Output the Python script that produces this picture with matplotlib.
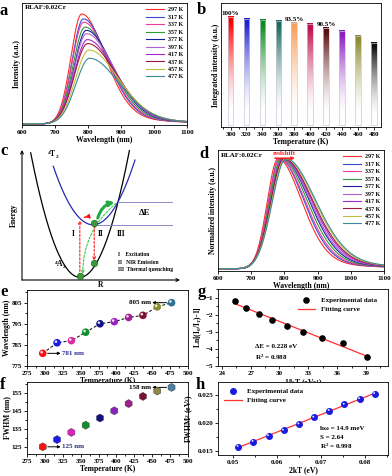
import numpy as np
import matplotlib
matplotlib.use('Agg')
import matplotlib.pyplot as plt
from matplotlib.ticker import AutoMinorLocator, FormatStrFormatter
from matplotlib.patches import FancyArrowPatch
from matplotlib import transforms

plt.rcParams['font.family'] = ['Liberation Serif', 'DejaVu Serif']
plt.rcParams['font.weight'] = 'bold'
plt.rcParams['axes.labelweight'] = 'bold'
plt.rcParams['font.size'] = 5
plt.rcParams['mathtext.fontset'] = 'custom'
plt.rcParams['mathtext.rm'] = 'Liberation Serif:bold'
plt.rcParams['mathtext.it'] = 'Liberation Serif:italic:bold'
plt.rcParams['mathtext.bf'] = 'Liberation Serif:bold'
plt.rcParams['axes.linewidth'] = 0.6
plt.rcParams['xtick.major.width'] = 0.6
plt.rcParams['ytick.major.width'] = 0.6
plt.rcParams['xtick.major.size'] = 2
plt.rcParams['ytick.major.size'] = 2
plt.rcParams['xtick.minor.size'] = 1.2
plt.rcParams['ytick.minor.size'] = 1.2
plt.rcParams['xtick.major.pad'] = 1.5
plt.rcParams['ytick.major.pad'] = 1.5
plt.rcParams['axes.labelpad'] = 1

# ---- data ----
temps = [297, 317, 337, 357, 377, 397, 417, 437, 457, 477]
temp_labels = ['297 K', '317 K', '337 K', '357 K', '377 K', '397 K', '417 K', '437 K', '457 K', '477 K']
peak_nm = [781, 786, 787, 791, 795, 796, 798, 799, 803, 805]
fwhm_nm = [125, 129, 133, 137, 141, 145, 149, 153, 156, 158]
peak_height = [1.0, 0.955, 0.925, 0.881, 0.851, 0.821, 0.767, 0.731, 0.672, 0.597]
spec_colors = ['#ff2a2a', '#3a4ad0', '#ee3c9a', '#2f9a3a', '#1c1ca0', '#b060d0',
               '#a32ac8', '#a01838', '#c0c040', '#3a8a98']
dot_colors = ['#ff1010', '#1a1ae0', '#e02aa0', '#10902a', '#10108a', '#9a20c0',
              '#a0209a', '#801030', '#8a8a30', '#2a7090']
hex_colors = ['#ff1010', '#1a1af0', '#e020c0', '#10902a', '#101080', '#8a20c0',
              '#a0208a', '#801030', '#8a8a40', '#4a80a0']

bar_T = [300, 320, 340, 360, 380, 400, 420, 440, 460, 480]
bar_int = [100, 98.5, 97.2, 96.2, 94.8, 93.3, 90.2, 86.8, 82.8, 76.0]
bar_colors = ['#ff0000', '#2020d0', '#0a8a1a', '#1a6a5a', '#f8a060', '#c01050',
              '#5a1010', '#8a20c0', '#8a8a30', '#101010']

g_x = [25.39, 26.55, 27.83, 29.23, 30.78, 32.50, 34.43, 36.61, 39.07]
g_y = [-1.23, -1.62, -1.94, -2.29, -2.69, -3.02, -3.37, -3.65, -4.50]

h_x = [0.0512, 0.0546, 0.0581, 0.0615, 0.0650, 0.0684, 0.0719, 0.0753, 0.0788, 0.0822]
h_y = [0.0158, 0.0167, 0.0177, 0.0187, 0.0198, 0.0210, 0.0222, 0.0233, 0.0243, 0.0252]

# configuration coordinate diagram (schematic units)
ground = dict(x0=3.66, y0=0.21, k=1.0)
excited = dict(x0=4.5, y0=4.29, k=0.716)


def band(wl, peak, fwhm, height):
    # asymmetric band shape, narrow blue side, long red tail
    hw = np.where(wl < peak, 0.31 * fwhm, 0.69 * fwhm)
    x = (wl - peak) / hw
    eta = np.where(wl < peak, 0.0, 0.25)
    return height * ((1 - eta) * np.exp(-np.log(2) * x ** 2) + eta / (1 + x ** 2))


fig = plt.figure(figsize=(3.92, 4.76), dpi=100)


def ax_at(l, t, r, b):
    return fig.add_axes([l / 392, 1 - b / 476, (r - l) / 392, (b - t) / 476])


def letter(x, y, s):
    fig.text(x / 392, 1 - y / 476, s, fontsize=12, fontweight='bold', va='top', ha='left')


wl = np.linspace(600, 1100, 600)

# ---- a ----
ax = ax_at(22, 3, 187, 125)
for i in range(len(temps)):
    ax.plot(wl, band(wl, peak_nm[i], fwhm_nm[i], peak_height[i]), color=spec_colors[i], lw=0.8,
            label=temp_labels[i])
ax.set_xlim(600, 1100)
ax.set_ylim(-0.01, 1.1)
ax.set_yticks([])
ax.set_xticks(range(600, 1101, 100))
ax.set_xlabel('Wavelength (nm)', fontsize=5.5)
ax.set_ylabel('Intensity (a.u.)', fontsize=5.5)
ax.text(0.015, 0.985, 'RLAF:0.02Cr', transform=ax.transAxes, va='top', fontsize=5)
ax.legend(loc='upper right', frameon=False, fontsize=4.3, handlelength=3, labelspacing=0.38,
          handletextpad=0.6, borderaxespad=0.3)
letter(0, 3, 'a')

# ---- b ----
ax = ax_at(221, 3, 381, 127)
w = 7
for T, h, c in zip(bar_T, bar_int, bar_colors):
    rgb = np.array(matplotlib.colors.to_rgb(c))
    t = np.linspace(1, 0, 200)[:, None]
    mix = np.clip((t - 0.1) / 0.85, 0, 1) ** 1.6
    img = (1 - mix[..., None]) * np.ones(3) + mix[..., None] * rgb
    ax.imshow(img, extent=[T - w / 2, T + w / 2, 0, h], aspect='auto', zorder=2)
ax.bar(bar_T, bar_int, width=w, facecolor='none', edgecolor='#c8c8dc', lw=0.5, zorder=3)
ax.set_xlim(288, 489)
ax.set_ylim(-1.5, 113)
ax.set_yticks([])
ax.set_xticks(bar_T)
ax.xaxis.set_minor_locator(AutoMinorLocator(2))
ax.set_xlabel('Temperature (K)', fontsize=5.5)
ax.set_ylabel('Integrated intensity (a.u.)', fontsize=5.5)
ax.text(bar_T[0], bar_int[0] + 1, '100%', ha='center', va='bottom', fontsize=5)
ax.text(bar_T[4], bar_int[4] + 1, '93.5%', ha='center', va='bottom', fontsize=5)
ax.text(bar_T[6], bar_int[6] + 1, '90.5%', ha='center', va='bottom', fontsize=5)
letter(197, 2, 'b')

# ---- c ----
ax = ax_at(22, 150, 180, 280)
ax.set_xlim(0, 10)
ax.set_ylim(0, 10.1)
for s in ax.spines.values():
    s.set_visible(False)
ax.set_xticks([])
ax.set_yticks([])
ax.annotate('', xy=(0, 1.0), xytext=(0, 0), xycoords='axes fraction',
            arrowprops=dict(arrowstyle='->', lw=0.8, color='k', shrinkA=0, shrinkB=0))
ax.annotate('', xy=(1.0, 0), xytext=(0, 0), xycoords='axes fraction',
            arrowprops=dict(arrowstyle='->', lw=0.8, color='k', shrinkA=0, shrinkB=0))
xg = np.linspace(0.55, 6.8, 200)
ax.plot(xg, ground['k'] * (xg - ground['x0']) ** 2 + ground['y0'], color='k', lw=0.9)
xe = np.linspace(1.98, 7.15, 200)
ax.plot(xe, excited['k'] * (xe - excited['x0']) ** 2 + excited['y0'], color='#2a2ab0', lw=0.9)
# crossing point
xx = np.linspace(4.5, 8, 2000)
diff = ground['k'] * (xx - ground['x0']) ** 2 + ground['y0'] - (excited['k'] * (xx - excited['x0']) ** 2 + excited['y0'])
xc = xx[np.argmin(np.abs(diff))]
yc = ground['k'] * (xc - ground['x0']) ** 2 + ground['y0']
ax.plot([xc, 9.5], [yc, yc], color='#8a8ac8', lw=0.7)
ax.plot([excited['x0'], 9.5], [excited['y0'], excited['y0']], color='#8a8ac8', lw=0.7)
ax.text(7.4, (yc + excited['y0']) / 2, 'ΔE', fontsize=6.5, va='center')
# transitions
ax.annotate('', xy=(ground['x0'], 4.65), xytext=(ground['x0'], 0.35),
            arrowprops=dict(arrowstyle='->', color='#ff2020', lw=0.8, ls=(0, (2, 1.5)), shrinkA=0, shrinkB=0))
ax.annotate('', xy=(4.57, 1.5), xytext=(4.57, 4.2),
            arrowprops=dict(arrowstyle='->', color='#ff2020', lw=0.8, ls=(0, (2, 1.5)), shrinkA=0, shrinkB=0))
ax.add_patch(FancyArrowPatch((3.8, 4.75), (4.45, 4.55), connectionstyle='arc3,rad=-0.6',
                             arrowstyle='-|>', mutation_scale=5, color='#ff1010', lw=1.1))
ax.add_patch(FancyArrowPatch((4.75, 4.6), (xc - 0.05, yc), connectionstyle='arc3,rad=-0.35',
                             arrowstyle='-|>', mutation_scale=7, color='#22aa44', lw=2.2))
ax.add_patch(FancyArrowPatch((xc, yc), (3.85, 0.25), connectionstyle='arc3,rad=0.25',
                             arrowstyle='->', mutation_scale=5, color='#33cc44', lw=0.8, ls=(0, (2, 1.5))))
ax.scatter([ground['x0'], 4.57, 4.57], [0.3, 4.45, 1.35], s=22, color='#3a9a3a',
           edgecolors='#1a5a1a', lw=0.4, zorder=5)
ax.text(3.23, 3.6, 'I', ha='center', va='center', fontsize=5.5)
ax.text(4.95, 3.6, 'II', ha='center', va='center', fontsize=5.5)
ax.text(6.3, 3.6, 'III', ha='center', va='center', fontsize=5.5)
ax.text(6.1, 1.95, 'I    Excitation', fontsize=4, va='center')
ax.text(6.1, 1.38, 'II   NIR Emission', fontsize=4, va='center')
ax.text(6.1, 0.8, 'III  Thermal quenching', fontsize=4, va='center')
ax.text(1.6, 9.7, '$^4$T$_2$', fontsize=5.5, va='center')
ax.text(2.0, 1.2, '$^4$A$_2$', fontsize=5.5, va='center')
ax.set_xlabel('R', fontsize=5.5, labelpad=1)
ax.set_ylabel('Energy', fontsize=5.5, labelpad=3)
letter(0, 143, 'c')

# ---- d ----
ax = ax_at(218, 150, 384, 271)
for i in range(len(temps)):
    ax.plot(wl, band(wl, peak_nm[i], fwhm_nm[i], 1.0), color=spec_colors[i], lw=0.8,
            label=temp_labels[i])
ax.set_xlim(600, 1100)
ax.set_ylim(-0.02, 1.08)
ax.set_yticks([])
ax.set_xticks(range(600, 1101, 100))
ax.set_xlabel('Wavelength (nm)', fontsize=5.5)
ax.set_ylabel('Normalized intensity (a.u.)', fontsize=5.5)
ax.text(0.015, 0.975, 'RLAF:0.02Cr', transform=ax.transAxes, va='top', fontsize=5)
ax.text(800, 1.05, 'redshift', color='#ff2020', ha='center', va='center', fontsize=5)
ax.annotate('', xy=(832, 1.005), xytext=(772, 1.005),
            arrowprops=dict(arrowstyle='-|>', color='#ff2020', lw=1.2, mutation_scale=4, shrinkA=0, shrinkB=0))
ax.legend(loc='upper right', frameon=False, fontsize=4.3, handlelength=3, labelspacing=0.38,
          handletextpad=0.6, borderaxespad=0.3)
letter(199, 146, 'd')


def spheres(ax, x, y, colors, s):
    ax.scatter(x, y, s=s, c=colors, edgecolors='none', zorder=4)
    off = transforms.offset_copy(ax.transData, fig=fig, x=-0.8, y=0.8, units='points')
    ax.scatter(x, y, s=s * 0.12, c='white', edgecolors='none', alpha=0.85, zorder=5, transform=off)


# ---- e ----
ax = ax_at(27, 290, 188, 366)
ax.plot(temps, peak_nm, color='k', ls=(0, (3, 2)), lw=0.7, zorder=3)
spheres(ax, temps, peak_nm, dot_colors, 30)
ax.set_xlim(275, 500)
ax.set_ylim(775, 811)
ax.set_xticks(range(275, 501, 25))
ax.set_yticks([775, 785, 795, 805])
ax.xaxis.set_minor_locator(AutoMinorLocator(2))
ax.yaxis.set_minor_locator(AutoMinorLocator(2))
ax.set_xlabel('Temperature (K)', fontsize=5.5)
ax.set_ylabel('Wavelength (nm)', fontsize=5.5, labelpad=0.5)
ax.annotate('', xy=(322, peak_nm[0]), xytext=(304, peak_nm[0]),
            arrowprops=dict(arrowstyle='-|>', color='k', lw=0.7, mutation_scale=4, shrinkA=0, shrinkB=0))
ax.text(324, peak_nm[0], '%d nm' % peak_nm[0], color='#2a2a9a', va='center', fontsize=5)
ax.annotate('', xy=(450, peak_nm[-1]), xytext=(470, peak_nm[-1]),
            arrowprops=dict(arrowstyle='-|>', color='k', lw=0.7, mutation_scale=4, shrinkA=0, shrinkB=0))
ax.text(448, peak_nm[-1], '%d nm' % peak_nm[-1], ha='right', va='center', fontsize=5)
letter(0, 284, 'e')

# ---- f ----
ax = ax_at(27, 382, 188, 454)
ax.scatter(temps, fwhm_nm, s=34, marker='h', c=hex_colors, edgecolors='#333333', lw=0.3, zorder=4)
ax.set_xlim(275, 500)
ax.set_ylim(121, 161)
ax.set_xticks(range(275, 501, 25))
ax.set_yticks([125, 135, 145, 155])
ax.xaxis.set_minor_locator(AutoMinorLocator(2))
ax.yaxis.set_minor_locator(AutoMinorLocator(2))
ax.set_xlabel('Temperature (K)', fontsize=5.5)
ax.set_ylabel('FWHM (nm)', fontsize=5.5, labelpad=0.5)
ax.annotate('', xy=(322, fwhm_nm[0]), xytext=(304, fwhm_nm[0]),
            arrowprops=dict(arrowstyle='-|>', color='k', lw=0.7, mutation_scale=4, shrinkA=0, shrinkB=0))
ax.text(324, fwhm_nm[0], '%d nm' % fwhm_nm[0], color='#2a2a7a', va='center', fontsize=5)
ax.annotate('', xy=(450, fwhm_nm[-1]), xytext=(470, fwhm_nm[-1]),
            arrowprops=dict(arrowstyle='-|>', color='k', lw=0.7, mutation_scale=4, shrinkA=0, shrinkB=0))
ax.text(448, fwhm_nm[-1], '%d nm' % fwhm_nm[-1], ha='right', va='center', fontsize=5)
letter(0, 377, 'f')

# ---- g ----
ax = ax_at(218, 289, 388, 366)
p = np.polyfit(g_x, g_y, 1)
xf = np.array([g_x[0], g_x[-1]])
ax.scatter(g_x, g_y, s=14, color='k', zorder=4, label='Experimental data')
ax.plot(xf, np.polyval(p, xf), color='#ff3030', lw=0.9, label='Fitting curve')
ax.set_xlim(23.6, 41.3)
ax.set_ylim(-5, -0.5)
ax.set_xticks([24, 27, 30, 33, 36, 39])
ax.set_yticks([-5, -4, -3, -2, -1])
ax.xaxis.set_minor_locator(AutoMinorLocator(2))
ax.yaxis.set_minor_locator(AutoMinorLocator(2))
ax.set_xlabel('1/kT (eV$^{-1}$)', fontsize=5.5)
ax.set_ylabel('Ln[(I$_0$/I$_T$)-1]', fontsize=5.5)
ax.text(27.5, -3.87, 'ΔE = 0.228 eV', fontsize=5, va='center')
ax.text(27.5, -4.47, 'R$^2$ = 0.988', fontsize=5, va='center')
ax.legend(loc='upper right', frameon=False, fontsize=5, handlelength=2.5, labelspacing=0.5,
          bbox_to_anchor=(0.97, 0.98))
letter(198, 284, 'g')

# ---- h ----
ax = ax_at(218, 382, 388, 455)
p = np.polyfit(h_x, h_y, 1)
xf = np.array([h_x[0], h_x[-1]])
ax.plot(xf, np.polyval(p, xf), color='#ff3030', lw=0.9, label='Fitting curve', zorder=3)
ax.scatter(h_x, h_y, s=16, color='#1a1ae0', zorder=4, label='Experimental data')
off = transforms.offset_copy(ax.transData, fig=fig, x=-0.5, y=0.5, units='points')
ax.scatter(h_x, h_y, s=2, c='white', edgecolors='none', alpha=0.85, zorder=5, transform=off)
ax.set_xlim(0.0466, 0.0852)
ax.set_ylim(0.0143, 0.0273)
ax.set_xticks([0.05, 0.06, 0.07, 0.08])
ax.set_yticks([0.015, 0.020, 0.025])
ax.xaxis.set_major_formatter(FormatStrFormatter('%.2f'))
ax.yaxis.set_major_formatter(FormatStrFormatter('%.3f'))
ax.xaxis.set_minor_locator(AutoMinorLocator(2))
ax.yaxis.set_minor_locator(AutoMinorLocator(2))
ax.set_xlabel('2kT (eV)', fontsize=5.5)
ax.set_ylabel('FWHM$^2$ (eV$^2$)', fontsize=5.5)
ax.text(0.0697, 0.0191, 'hω = 14.9 meV', fontsize=5, va='center')
ax.text(0.0697, 0.0174, 'S = 2.64', fontsize=5, va='center')
ax.text(0.0697, 0.0159, 'R$^2$ = 0.998', fontsize=5, va='center')
hnd, lab = ax.get_legend_handles_labels()
ax.legend(hnd[::-1], lab[::-1], loc='upper left', frameon=False, fontsize=5, handlelength=2.5,
          labelspacing=0.5)
letter(196, 377, 'h')

fig.savefig('out.png', dpi=100)
